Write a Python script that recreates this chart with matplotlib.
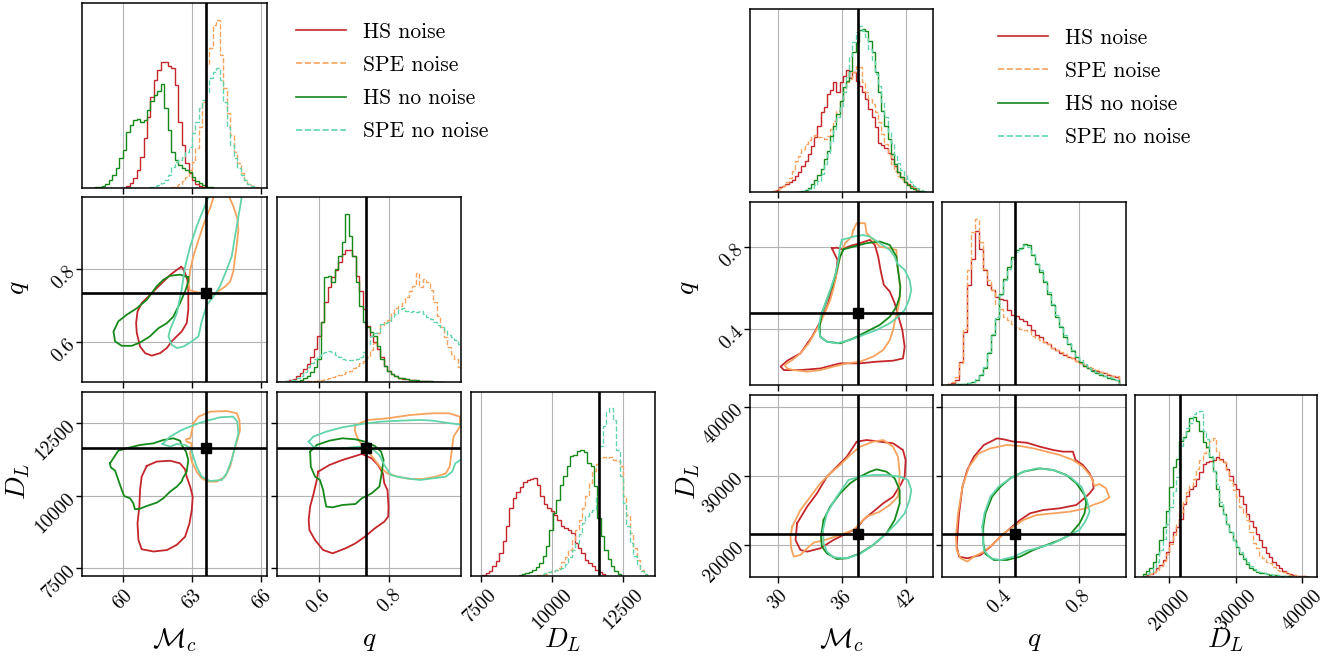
import numpy as np
import matplotlib
matplotlib.use("Agg")
import matplotlib.pyplot as plt
from matplotlib.lines import Line2D

plt.rcParams["font.family"] = "cmr10"
plt.rcParams["mathtext.fontset"] = "cm"
plt.rcParams["axes.unicode_minus"] = False
plt.rcParams["axes.formatter.use_mathtext"] = True

SERIES = ["HS noise", "SPE noise", "HS no noise", "SPE no noise"]
COLORS = ["#c4262b", "#f6a35e", "#16891b", "#62d4a9"]
HIST_STYLES = ["-", "--", "-", "--"]
PARAM_LABELS = [r"$\mathcal{M}_c$", r"$q$", r"$D_L$"]

# ------------------------------------------------------------------ LEFT corner
L_TRUTH = [63.6, 0.735, 11650]
L_MC_TICKS = [60, 63, 66]
L_Q_TICKS = [0.6, 0.8]
L_DL_TICKS = [7500, 10000, 12500]
L_MC_TICKLABELS = ["60", "63", "66"]
L_Q_TICKLABELS = ["0.6", "0.8"]
L_DL_TICKLABELS = ["7500", "10000", "12500"]

# Mc histograms (bin width 0.15)
L_MC_BIN = 0.15
L_MC_START = [60.0, 62.1, 58.5, 61.2]
L_MC_HS_NOISE = [2, 6, 15, 30, 55, 95, 150, 215, 275, 325, 355, 378, 378, 368, 360, 310,
                 200, 130, 75, 45, 25, 12, 6, 3]
L_MC_SPE_NOISE = [3, 6, 12, 22, 35, 55, 80, 120, 185, 260, 370, 420, 490, 505, 400, 300,
                  225, 160, 110, 75, 45, 25, 12, 6, 3]
L_MC_HS_NONOISE = [1, 2, 3, 5, 8, 14, 25, 40, 60, 90, 115, 170, 190, 205, 207, 198, 205,
                   235, 262, 280, 292, 312, 240, 175, 110, 85, 70, 60, 55, 48, 35, 22, 15,
                   9, 5, 3]
L_MC_SPE_NONOISE = [3, 6, 10, 16, 25, 40, 65, 78, 85, 95, 108, 125, 165, 200, 240, 265,
                    290, 330, 350, 362, 325, 260, 185, 130, 92, 62, 40, 25, 14, 7]

# q histograms (bin width 0.01)
L_Q_BIN = 0.01
L_Q_START = [0.485, 0.485, 0.485, 0.485]
L_Q_HS_NOISE = [1, 2, 4, 6, 10, 18, 28, 40, 55, 75, 100, 140, 182, 240, 285, 315, 338,
                360, 385, 398, 398, 380, 318, 275, 220, 170, 140, 120, 100, 75, 50, 35,
                25, 18, 14, 11, 9, 7, 6, 5, 4, 3, 3, 2, 2, 1, 1]
L_Q_SPE_NOISE = [0, 0, 1, 1, 1, 2, 2, 3, 3, 4, 5, 6, 8, 11, 13, 15, 20, 22, 25, 30, 35,
                 42, 50, 57, 65, 77, 97, 117, 147, 172, 182, 187, 207, 222, 230, 237,
                 257, 275, 290, 327, 287, 309, 300, 277, 240, 200, 165, 135, 105, 85, 70,
                 45]
L_Q_HS_NONOISE = [0, 1, 1, 2, 3, 5, 8, 12, 18, 30, 45, 70, 180, 315, 318, 300, 340, 380,
                  420, 505, 440, 380, 300, 230, 180, 165, 150, 140, 110, 70, 48, 35, 25,
                  18, 14, 12, 10, 8, 7, 6, 5, 4, 3, 3, 2, 2, 1]
L_Q_SPE_NONOISE = [1, 2, 4, 6, 8, 12, 18, 30, 45, 58, 70, 78, 87, 92, 94, 90, 82, 75, 70,
                   67, 67, 67, 70, 75, 90, 115, 140, 147, 150, 175, 178, 180, 195, 205,
                   220, 222, 215, 212, 215, 212, 215, 205, 195, 190, 180, 172, 167, 157,
                   142, 137, 127, 115]

# DL histograms (bin width 120)
L_DL_BIN = 120
L_DL_START = [7550, 9490, 8830, 9490]
L_DL_HS_NOISE = [4, 9, 17, 30, 45, 70, 105, 150, 205, 235, 252, 268, 282, 290, 292, 294,
                 275, 240, 218, 204, 195, 185, 170, 150, 145, 140, 130, 100, 85, 70, 50,
                 40, 30, 20, 12, 6]
L_DL_SPE_NOISE = [3, 5, 8, 12, 16, 20, 25, 42, 58, 78, 108, 140, 170, 205, 240, 280, 315,
                  338, 354, 358, 356, 358, 350, 345, 330, 240, 185, 130, 85, 50, 20, 8]
L_DL_HS_NONOISE = [4, 7, 10, 13, 18, 28, 40, 60, 90, 140, 190, 230, 275, 300, 330, 360,
                   365, 375, 380, 372, 340, 330, 270, 175, 120, 80, 52, 32, 16, 8]
L_DL_SPE_NONOISE = [2, 6, 10, 14, 17, 19, 21, 26, 38, 58, 78, 100, 128, 160, 180, 194,
                    200, 240, 390, 450, 492, 504, 470, 380, 300, 220, 150, 100, 62, 35,
                    16, 6]

# credible-region outlines, q vs Mc  (Mc, q)
L_QMC_HS_NOISE = [(62.53, 0.806), (62.34, 0.798), (62.05, 0.784), (61.76, 0.766),
                  (61.47, 0.748), (61.11, 0.725), (60.82, 0.707), (60.64, 0.684),
                  (60.58, 0.652), (60.61, 0.625), (60.75, 0.588), (60.97, 0.570),
                  (61.26, 0.563), (61.62, 0.570), (61.91, 0.584), (62.12, 0.602),
                  (62.34, 0.616), (62.55, 0.629), (62.77, 0.652), (62.84, 0.689),
                  (62.84, 0.743), (62.80, 0.771), (62.70, 0.789), (62.60, 0.803)]
L_QMC_SPE_NOISE = [(63.93, 0.997), (63.81, 0.972), (63.52, 0.926), (63.28, 0.880),
                   (63.06, 0.835), (62.92, 0.798), (62.86, 0.762), (62.89, 0.743),
                   (63.09, 0.739), (63.42, 0.734), (63.71, 0.723), (63.95, 0.730),
                   (64.19, 0.742), (64.43, 0.752), (64.65, 0.766), (64.79, 0.794),
                   (64.86, 0.830), (64.94, 0.867), (65.01, 0.908), (64.96, 0.940),
                   (64.79, 0.972), (64.62, 0.997), (64.50, 1.045), (64.07, 1.045)]
L_QMC_HS_NONOISE = [(62.84, 0.778), (62.48, 0.785), (62.05, 0.782), (61.76, 0.771),
                    (61.47, 0.753), (61.04, 0.716), (60.61, 0.693), (60.17, 0.675),
                    (59.81, 0.657), (59.60, 0.629), (59.67, 0.602), (59.96, 0.590),
                    (60.39, 0.590), (60.75, 0.599), (61.18, 0.616), (61.54, 0.638),
                    (61.91, 0.652), (62.19, 0.670), (62.48, 0.707), (62.70, 0.739),
                    (62.84, 0.766)]
L_QMC_SPE_NONOISE = [(63.71, 0.997), (63.49, 0.963), (63.20, 0.917), (62.92, 0.862),
                     (62.70, 0.807), (62.55, 0.743), (62.34, 0.679), (62.05, 0.634),
                     (61.98, 0.616), (62.12, 0.593), (62.34, 0.584), (62.63, 0.588),
                     (62.99, 0.602), (63.28, 0.616), (63.42, 0.657), (63.64, 0.702),
                     (63.93, 0.725), (64.21, 0.753), (64.50, 0.798), (64.72, 0.835),
                     (64.86, 0.889), (65.01, 0.944), (65.11, 0.981), (65.15, 0.997),
                     (65.08, 1.045), (63.78, 1.045)]

# DL vs Mc  (Mc, DL)
L_DLMC_HS_NOISE = [(61.04, 11030), (61.47, 11180), (62.05, 11210), (62.48, 11120),
                   (62.70, 10910), (62.77, 10660), (62.92, 10320), (63.03, 9970),
                   (62.99, 9510), (62.89, 9050), (62.70, 8590), (62.34, 8310),
                   (61.91, 8130), (61.33, 8080), (60.82, 8160), (60.68, 8480),
                   (60.64, 9050), (60.72, 9630), (60.75, 10200), (60.82, 10660)]
L_DLMC_SPE_NOISE = [(63.06, 12500), (63.28, 12730), (63.78, 12900), (64.50, 12925),
                    (64.94, 12845), (65.05, 12615), (65.08, 12270), (64.96, 11925),
                    (64.79, 11466), (64.65, 11006), (64.43, 10661), (64.07, 10489),
                    (63.71, 10489), (63.42, 10603), (63.20, 10833), (62.99, 11178),
                    (62.92, 11466), (62.99, 11810), (62.77, 11868), (62.74, 11948),
                    (62.92, 11983), (62.99, 12213)]
L_DLMC_HS_NONOISE = [(59.45, 11121), (59.81, 11557), (60.17, 11638), (60.75, 11753),
                     (61.33, 11810), (61.76, 11925), (62.19, 11983), (62.48, 11902),
                     (62.55, 11753), (62.74, 11523), (62.84, 11236), (62.77, 10833),
                     (62.60, 10603), (62.55, 10489), (62.34, 10316), (62.05, 10144),
                     (61.76, 9914), (61.47, 9764), (61.04, 9649), (60.75, 9558),
                     (60.53, 9535), (60.46, 9741), (60.32, 9914), (60.06, 9994),
                     (59.96, 10201), (59.67, 10868), (59.48, 10983)]
L_DLMC_SPE_NONOISE = [(61.72, 11788), (62.05, 12040), (62.55, 12270), (63.35, 12523),
                      (64.21, 12707), (64.79, 12730), (64.96, 12557), (65.01, 12155),
                      (64.86, 11695), (64.72, 11236), (64.50, 10776), (64.29, 10546),
                      (63.78, 10511), (63.42, 10661), (63.20, 11006), (63.06, 11351),
                      (62.94, 11638), (62.70, 11753), (62.34, 11788), (62.05, 11695)]

# DL vs q  (q, DL)
L_DLQ_HS_NOISE = [(0.598, 10833), (0.630, 11063), (0.667, 11236), (0.704, 11374),
                  (0.722, 11443), (0.750, 11293), (0.768, 11063), (0.782, 10776),
                  (0.786, 10431), (0.795, 10201), (0.798, 9627), (0.797, 9282),
                  (0.786, 9109), (0.759, 8879), (0.731, 8592), (0.704, 8362),
                  (0.676, 8190), (0.639, 8017), (0.612, 8132), (0.589, 8477),
                  (0.573, 8822), (0.571, 9167), (0.575, 9627), (0.584, 10029),
                  (0.594, 10546)]
L_DLQ_SPE_NOISE = [(0.704, 12443), (0.740, 12615), (0.795, 12672), (0.860, 12787),
                   (0.924, 12845), (0.970, 12845), (1.001, 12730), (1.001, 12385),
                   (0.983, 12040), (0.977, 11466), (0.972, 11006), (0.961, 10776),
                   (0.933, 10661), (0.896, 10580), (0.860, 10580), (0.823, 10661),
                   (0.795, 10776), (0.777, 10948), (0.759, 11236), (0.740, 11523),
                   (0.722, 11753), (0.708, 12040), (0.702, 12270)]
L_DLQ_HS_NONOISE = [(0.575, 11523), (0.594, 11753), (0.630, 11902), (0.667, 11983),
                    (0.704, 11948), (0.731, 11868), (0.759, 11718), (0.777, 11523),
                    (0.784, 11236), (0.777, 10661), (0.772, 10316), (0.750, 10086),
                    (0.722, 9914), (0.704, 9718), (0.667, 9684), (0.639, 9604),
                    (0.621, 9627), (0.617, 9856), (0.612, 10201), (0.603, 10546),
                    (0.589, 10661), (0.577, 11006)]
L_DLQ_SPE_NONOISE = [(0.571, 11868), (0.584, 12040), (0.621, 12213), (0.667, 12362),
                     (0.722, 12477), (0.777, 12557), (0.832, 12592), (0.887, 12615),
                     (0.924, 12592), (0.961, 12523), (1.010, 12443), (1.010, 11293),
                     (0.988, 11121), (0.979, 10833), (0.961, 10661), (0.924, 10603),
                     (0.887, 10546), (0.850, 10603), (0.823, 10661), (0.805, 10718),
                     (0.786, 11063), (0.772, 11408), (0.750, 11638), (0.713, 11695),
                     (0.667, 11638), (0.621, 11603), (0.584, 11695)]

# ----------------------------------------------------------------- RIGHT corner
R_TRUTH = [37.5, 0.478, 21600]
R_MC_TICKS = [30, 36, 42]
R_Q_TICKS = [0.4, 0.8]
R_DL_TICKS = [20000, 30000, 40000]
R_MC_TICKLABELS = ["30", "36", "42"]
R_Q_TICKLABELS = ["0.4", "0.8"]
R_DL_TICKLABELS = ["20000", "30000", "40000"]

R_MC_BIN = 0.3
R_MC_START = [29.5, 29.5, 31.6, 31.6]
R_MC_HS_NOISE = [3, 8, 15, 20, 25, 30, 38, 50, 62, 78, 95, 115, 140, 165, 200, 240, 255,
                 295, 308, 330, 302, 330, 348, 368, 342, 360, 335, 320, 300, 280, 250,
                 225, 195, 148, 142, 132, 117, 100, 80, 60, 45, 32, 25, 18, 12, 6]
R_MC_SPE_NOISE = [4, 8, 14, 20, 30, 42, 65, 95, 110, 130, 145, 157, 167, 172, 165, 167,
                  160, 170, 190, 215, 245, 275, 310, 330, 340, 362, 378, 375, 330, 300,
                  280, 265, 240, 210, 175, 145, 115, 85, 65, 50, 40, 30, 22, 16, 11, 6]
R_MC_HS_NONOISE = [1, 2, 4, 7, 14, 25, 38, 52, 70, 100, 125, 170, 200, 235, 275, 315,
                   335, 365, 420, 450, 488, 489, 484, 455, 420, 360, 300, 245, 200, 160,
                   115, 85, 60, 45, 32, 22, 14, 9, 5, 3, 1]
R_MC_SPE_NONOISE = [1, 2, 3, 6, 10, 14, 22, 35, 55, 85, 115, 155, 190, 225, 260, 300,
                    345, 410, 450, 480, 499, 485, 465, 430, 395, 355, 320, 270, 225, 182,
                    147, 112, 87, 67, 52, 40, 30, 20, 12, 8, 4]

R_Q_BIN = 0.02
R_Q_START = [0.14, 0.14, 0.14, 0.14]
R_Q_HS_NOISE = [2, 5, 15, 70, 160, 300, 380, 463, 410, 345, 300, 285, 265, 258, 255, 225,
                210, 208, 200, 192, 180, 165, 150, 145, 128, 122, 112, 105, 97, 90, 85,
                80, 73, 65, 57, 50, 46, 43, 40, 35, 30, 27, 24]
R_Q_SPE_NOISE = [3, 8, 25, 65, 170, 345, 460, 500, 430, 350, 315, 285, 245, 230, 205,
                 195, 185, 175, 168, 165, 162, 148, 142, 135, 128, 122, 112, 105, 98, 92,
                 85, 80, 72, 65, 60, 55, 50, 45, 40, 37, 33, 28, 26]
R_Q_HS_NONOISE = [1, 1, 2, 3, 4, 6, 10, 15, 30, 50, 95, 150, 200, 275, 320, 355, 385,
                  405, 412, 425, 420, 390, 365, 340, 310, 275, 240, 205, 175, 145, 122,
                  102, 85, 70, 58, 50, 42, 36, 30, 26, 22, 18, 14]
R_Q_SPE_NONOISE = [1, 1, 2, 3, 4, 6, 10, 17, 32, 55, 100, 155, 205, 270, 315, 350, 380,
                   400, 410, 420, 415, 395, 368, 345, 312, 280, 245, 210, 178, 150, 125,
                   105, 88, 74, 62, 52, 45, 38, 33, 28, 24, 20, 16]

R_DL_BIN = 500
R_DL_START = [16000, 16000, 16000, 16000]
R_DL_HS_NOISE = [2, 5, 9, 16, 26, 36, 51, 76, 105, 135, 150, 175, 220, 245, 265, 275, 295,
                 315, 340, 345, 350, 352, 360, 355, 345, 325, 305, 280, 265, 245, 220,
                 190, 170, 150, 130, 110, 90, 72, 60, 46, 36, 26, 17, 12, 9, 6, 4, 3, 2, 1]
R_DL_SPE_NOISE = [3, 6, 10, 14, 22, 32, 48, 70, 100, 125, 160, 195, 230, 255, 275, 295,
                  325, 352, 372, 392, 408, 419, 380, 352, 345, 322, 292, 262, 242, 212,
                  192, 172, 135, 102, 88, 62, 56, 46, 41, 31, 21, 17, 14, 11, 7, 5, 4, 3,
                  2, 1]
R_DL_HS_NONOISE = [10, 18, 28, 45, 70, 110, 150, 200, 270, 330, 355, 410, 422, 440, 478,
                   481, 470, 440, 405, 390, 360, 320, 265, 215, 190, 160, 135, 110, 90,
                   70, 55, 38, 27, 21, 16, 13, 11, 9, 7, 6, 5, 4, 3, 2, 2, 1, 1, 1, 0, 0]
R_DL_SPE_NONOISE = [3, 8, 16, 28, 45, 80, 115, 160, 210, 260, 300, 395, 420, 448, 465,
                    490, 496, 499, 440, 415, 365, 320, 280, 225, 190, 160, 135, 112, 92,
                    75, 58, 44, 32, 24, 19, 15, 12, 10, 8, 7, 5, 4, 3, 2, 2, 1, 1, 1, 0, 0]

R_QMC_HS_NOISE = [(35.07, 0.795), (35.53, 0.798), (36.00, 0.790), (36.78, 0.806),
                  (37.71, 0.820), (38.64, 0.836), (39.11, 0.811), (39.42, 0.754),
                  (39.67, 0.681), (39.95, 0.616), (40.51, 0.583), (40.97, 0.526),
                  (41.28, 0.469), (41.69, 0.395), (41.91, 0.313), (41.75, 0.256),
                  (40.82, 0.245), (39.26, 0.240), (37.71, 0.232), (35.84, 0.232),
                  (33.98, 0.207), (32.11, 0.199), (30.56, 0.199), (30.25, 0.216),
                  (30.87, 0.245), (32.11, 0.281), (33.20, 0.362), (33.98, 0.436),
                  (34.60, 0.509), (35.07, 0.583), (35.44, 0.656), (35.60, 0.738)]
R_QMC_SPE_NOISE = [(37.09, 0.885), (37.40, 0.918), (38.18, 0.918), (38.33, 0.869),
                   (38.95, 0.836), (39.57, 0.803), (40.51, 0.795), (41.13, 0.787),
                   (41.19, 0.722), (41.38, 0.656), (41.50, 0.591), (41.38, 0.526),
                   (41.19, 0.477), (40.97, 0.436), (40.82, 0.395), (40.51, 0.346),
                   (39.89, 0.297), (38.95, 0.265), (37.71, 0.240), (36.47, 0.232),
                   (35.22, 0.216), (33.98, 0.199), (32.74, 0.191), (31.49, 0.199),
                   (30.87, 0.207), (30.62, 0.224), (31.34, 0.248), (32.11, 0.281),
                   (32.89, 0.330), (33.42, 0.379), (33.98, 0.428), (34.45, 0.485),
                   (34.91, 0.542), (35.22, 0.599), (35.53, 0.673), (35.84, 0.754),
                   (36.31, 0.820), (36.93, 0.852)]
R_QMC_HS_NONOISE = [(36.16, 0.790), (37.09, 0.803), (38.33, 0.820), (39.57, 0.828),
                    (40.51, 0.811), (41.13, 0.754), (41.28, 0.689), (41.50, 0.607),
                    (41.44, 0.558), (41.13, 0.509), (40.51, 0.460), (39.57, 0.420),
                    (38.33, 0.387), (37.09, 0.354), (35.84, 0.330), (34.60, 0.338),
                    (33.98, 0.362), (33.92, 0.411), (34.13, 0.477), (34.60, 0.542),
                    (35.07, 0.607), (35.53, 0.689), (35.84, 0.754)]
R_QMC_SPE_NONOISE = [(36.00, 0.836), (37.09, 0.852), (38.02, 0.860), (38.64, 0.852),
                     (39.57, 0.820), (40.51, 0.787), (40.97, 0.754), (41.19, 0.722),
                     (41.91, 0.689), (42.37, 0.640), (42.53, 0.591), (42.31, 0.542),
                     (41.91, 0.493), (41.28, 0.460), (40.51, 0.428), (39.26, 0.395),
                     (38.02, 0.371), (36.78, 0.346), (35.53, 0.330), (34.60, 0.338),
                     (33.98, 0.362), (33.82, 0.411), (34.04, 0.469), (34.45, 0.526),
                     (34.91, 0.591), (35.38, 0.664), (35.69, 0.738), (35.84, 0.803)]

R_DLMC_HS_NOISE = [(31.80, 23090), (32.74, 25510), (33.67, 27440), (34.60, 29860),
                   (35.53, 31300), (36.47, 32750), (37.40, 34930), (38.33, 35170),
                   (39.57, 34930), (40.82, 34690), (41.75, 33720), (42.00, 32270),
                   (41.91, 29860), (41.60, 28890), (40.82, 26960), (39.89, 25990),
                   (38.95, 24780), (38.02, 23580), (37.40, 22370), (36.47, 21640),
                   (35.22, 20680), (33.98, 19470), (32.74, 18990), (32.11, 19230),
                   (31.65, 20680)]
R_DLMC_SPE_NOISE = [(31.34, 22610), (32.11, 25020), (33.05, 26960), (33.98, 28890),
                    (34.91, 30340), (35.84, 31550), (36.78, 33000), (37.71, 34200),
                    (38.95, 34930), (39.89, 35170), (40.82, 34200), (41.28, 32750),
                    (41.44, 30340), (41.38, 28410), (41.28, 26960), (40.51, 25750),
                    (39.57, 24780), (38.33, 24060), (37.71, 23090), (37.09, 22130),
                    (35.84, 21400), (34.60, 20770), (33.36, 20290), (32.74, 19470),
                    (32.11, 18500), (31.49, 18260), (31.24, 19470), (31.18, 21160)]
R_DLMC_HS_NONOISE = [(34.29, 23580), (34.91, 25510), (35.84, 27440), (36.78, 28890),
                     (37.71, 29860), (38.64, 30580), (39.26, 30920), (40.20, 30580),
                     (40.97, 29610), (41.44, 27920), (41.44, 25990), (40.97, 23580),
                     (40.20, 21640), (38.95, 19950), (37.71, 18740), (36.47, 18020),
                     (35.53, 17920), (34.60, 18740), (34.13, 19710), (34.04, 21160)]
R_DLMC_SPE_NONOISE = [(34.23, 22130), (34.60, 24540), (35.53, 26960), (36.62, 29370),
                      (37.71, 29860), (38.95, 30100), (40.20, 30100), (41.44, 29860),
                      (42.22, 29370), (42.53, 27920), (42.37, 26470), (41.91, 24540),
                      (41.13, 23090), (40.20, 21640), (38.95, 19950), (37.71, 18650),
                      (36.47, 18020), (35.22, 18160), (34.60, 18990), (34.29, 20190)]

R_DLQ_HS_NOISE = [(0.192, 21640), (0.200, 24540), (0.217, 28410), (0.241, 30820),
                  (0.274, 32750), (0.324, 34450), (0.390, 35410), (0.423, 35270),
                  (0.473, 34930), (0.539, 34780), (0.605, 34200), (0.671, 33720),
                  (0.721, 33480), (0.770, 33480), (0.783, 32270), (0.820, 31550),
                  (0.853, 30340), (0.869, 29370), (0.873, 28160), (0.853, 27440),
                  (0.836, 26960), (0.787, 25750), (0.704, 25270), (0.621, 25020),
                  (0.555, 24540), (0.506, 23580), (0.456, 22370), (0.407, 21160),
                  (0.357, 19710), (0.308, 18500), (0.241, 18020), (0.200, 18260),
                  (0.188, 19710)]
R_DLQ_SPE_NOISE = [(0.184, 21160), (0.195, 24540), (0.217, 28410), (0.250, 31300),
                   (0.299, 33240), (0.357, 33960), (0.440, 34450), (0.506, 34300),
                   (0.572, 33960), (0.638, 33480), (0.704, 33000), (0.770, 32270),
                   (0.820, 31300), (0.861, 29860), (0.878, 28500), (0.902, 28790),
                   (0.936, 28160), (0.952, 26860), (0.919, 26230), (0.869, 25750),
                   (0.836, 25270), (0.754, 24780), (0.671, 24540), (0.588, 24300),
                   (0.522, 23580), (0.473, 22610), (0.423, 21640), (0.374, 20190),
                   (0.324, 18990), (0.274, 18260), (0.241, 17540), (0.208, 18020),
                   (0.188, 19230)]
R_DLQ_HS_NONOISE = [(0.321, 22610), (0.332, 24540), (0.365, 26960), (0.407, 28410),
                    (0.456, 29610), (0.522, 30580), (0.605, 31060), (0.671, 30820),
                    (0.737, 30100), (0.787, 28890), (0.828, 27200), (0.836, 25990),
                    (0.828, 24540), (0.803, 23090), (0.754, 21400), (0.704, 20680),
                    (0.638, 19950), (0.572, 19230), (0.506, 18260), (0.440, 17780),
                    (0.374, 17780), (0.332, 18650), (0.321, 20190)]
R_DLQ_SPE_NONOISE = [(0.316, 22610), (0.327, 24540), (0.357, 26960), (0.398, 28410),
                     (0.456, 29610), (0.522, 30580), (0.588, 31060), (0.671, 30820),
                     (0.754, 29860), (0.812, 28410), (0.840, 26470), (0.853, 24780),
                     (0.836, 23580), (0.803, 22130), (0.737, 21160), (0.671, 20190),
                     (0.588, 19470), (0.539, 19130), (0.473, 18260), (0.407, 17780),
                     (0.357, 18020), (0.324, 19230)]

# ------------------------------------------------------------------- layout
W, H = 1335, 658
L_COLS = [(82.3, 267.3), (276.7, 461.3), (470.7, 655.0)]
L_ROWS = [(3.3, 188.3), (197.3, 382.3), (391.7, 576.3)]
R_COLS = [(750.3, 933.3), (942.3, 1125.7), (1134.7, 1317.3)]
R_ROWS = [(9.3, 192.3), (202.3, 385.0), (394.7, 577.0)]

L_XLIM = [(58.25, 66.26), (0.48, 1.005), (7150, 13610)]
L_YLIM = [None, (0.490, 0.997), (7225, 13590)]
R_XLIM = [(27.4, 44.6), (0.116, 1.034), (14790, 42240)]
R_YLIM = [None, (0.126, 1.020), (15310, 41740)]

TICK_FS = 14
LABEL_FS = 20

fig = plt.figure(figsize=(W / 100, H / 100), dpi=100)


def add_ax(col, row):
    x0, x1 = col
    y0, y1 = row
    return fig.add_axes([x0 / W, 1 - y1 / H, (x1 - x0) / W, (y1 - y0) / H])


def base_style(ax):
    for s in ax.spines.values():
        s.set_linewidth(1.1)
    ax.tick_params(direction="out", length=4, width=1.0, labelsize=TICK_FS, pad=3)
    ax.set_axisbelow(True)


def draw_corner(cols, rows, xlims, ylims, ticks, ticklabels, truth, hists, conts):
    # hists: list of (starts, width, [4 arrays]); conts: {(i,j): [4 polys]}
    for i in range(3):
        for j in range(i + 1):
            ax = add_ax(cols[j], rows[i])
            base_style(ax)
            if i == j:
                starts, width, arrs = hists[i]
                top = 0
                for k in range(4):
                    vals = np.asarray(arrs[k], dtype=float)
                    edges = starts[k] + width * np.arange(len(vals) + 1)
                    ax.stairs(vals, edges, color=COLORS[k], linestyle=HIST_STYLES[k],
                              lw=1.0, baseline=0)
                    top = max(top, vals.max())
                ax.set_ylim(0, 1.1 * top)
                ax.set_yticks([])
                ax.grid(True, axis="x", color="#b3b3b3", lw=0.8)
                ax.axvline(truth[i], color="k", lw=1.9)
            else:
                for k, poly in enumerate(conts[(i, j)]):
                    xs = [p[0] for p in poly] + [poly[0][0]]
                    ys = [p[1] for p in poly] + [poly[0][1]]
                    ax.plot(xs, ys, color=COLORS[k], lw=1.3)
                ax.set_ylim(*ylims[i])
                ax.set_yticks(ticks[i])
                ax.grid(True, color="#b3b3b3", lw=0.8)
                ax.axvline(truth[j], color="k", lw=1.9)
                ax.axhline(truth[i], color="k", lw=1.9)
                ax.plot([truth[j]], [truth[i]], "s", color="k", ms=7)
                if j == 0:
                    ax.set_yticklabels(ticklabels[i])
                    for lab in ax.get_yticklabels():
                        lab.set_rotation(45)
                        lab.set_rotation_mode("anchor")
                        lab.set_ha("right")
                        lab.set_va("center")
                else:
                    ax.tick_params(labelleft=False)
            ax.set_xlim(*xlims[j])
            ax.set_xticks(ticks[j])
            if i == 2:
                ax.set_xticklabels(ticklabels[j])
                for lab in ax.get_xticklabels():
                    lab.set_rotation(45)
                    lab.set_ha("center")
            else:
                ax.tick_params(labelbottom=False)


draw_corner(L_COLS, L_ROWS, L_XLIM, L_YLIM,
            [L_MC_TICKS, L_Q_TICKS, L_DL_TICKS],
            [L_MC_TICKLABELS, L_Q_TICKLABELS, L_DL_TICKLABELS], L_TRUTH,
            [(L_MC_START, L_MC_BIN, [L_MC_HS_NOISE, L_MC_SPE_NOISE, L_MC_HS_NONOISE, L_MC_SPE_NONOISE]),
             (L_Q_START, L_Q_BIN, [L_Q_HS_NOISE, L_Q_SPE_NOISE, L_Q_HS_NONOISE, L_Q_SPE_NONOISE]),
             (L_DL_START, L_DL_BIN, [L_DL_HS_NOISE, L_DL_SPE_NOISE, L_DL_HS_NONOISE, L_DL_SPE_NONOISE])],
            {(1, 0): [L_QMC_HS_NOISE, L_QMC_SPE_NOISE, L_QMC_HS_NONOISE, L_QMC_SPE_NONOISE],
             (2, 0): [L_DLMC_HS_NOISE, L_DLMC_SPE_NOISE, L_DLMC_HS_NONOISE, L_DLMC_SPE_NONOISE],
             (2, 1): [L_DLQ_HS_NOISE, L_DLQ_SPE_NOISE, L_DLQ_HS_NONOISE, L_DLQ_SPE_NONOISE]})

draw_corner(R_COLS, R_ROWS, R_XLIM, R_YLIM,
            [R_MC_TICKS, R_Q_TICKS, R_DL_TICKS],
            [R_MC_TICKLABELS, R_Q_TICKLABELS, R_DL_TICKLABELS], R_TRUTH,
            [(R_MC_START, R_MC_BIN, [R_MC_HS_NOISE, R_MC_SPE_NOISE, R_MC_HS_NONOISE, R_MC_SPE_NONOISE]),
             (R_Q_START, R_Q_BIN, [R_Q_HS_NOISE, R_Q_SPE_NOISE, R_Q_HS_NONOISE, R_Q_SPE_NONOISE]),
             (R_DL_START, R_DL_BIN, [R_DL_HS_NOISE, R_DL_SPE_NOISE, R_DL_HS_NONOISE, R_DL_SPE_NONOISE])],
            {(1, 0): [R_QMC_HS_NOISE, R_QMC_SPE_NOISE, R_QMC_HS_NONOISE, R_QMC_SPE_NONOISE],
             (2, 0): [R_DLMC_HS_NOISE, R_DLMC_SPE_NOISE, R_DLMC_HS_NONOISE, R_DLMC_SPE_NONOISE],
             (2, 1): [R_DLQ_HS_NOISE, R_DLQ_SPE_NOISE, R_DLQ_HS_NONOISE, R_DLQ_SPE_NONOISE]})

# axis labels
for cols, ylab_x in ((L_COLS, 18), (R_COLS, 688)):
    for j in range(3):
        xc = 0.5 * (cols[j][0] + cols[j][1])
        fig.text(xc / W, 1 - 640 / H, PARAM_LABELS[j], fontsize=LABEL_FS,
                 ha="center", va="center")
    fig.text(ylab_x / W, 1 - 288 / H, PARAM_LABELS[1], fontsize=LABEL_FS,
             ha="center", va="center", rotation=90)
    fig.text(ylab_x / W, 1 - 481 / H, PARAM_LABELS[2], fontsize=LABEL_FS,
             ha="center", va="center", rotation=90)

# legends
handles = [Line2D([], [], color=COLORS[k], ls=HIST_STYLES[k], lw=1.2) for k in range(4)]
for x0, y0 in ((296, 22), (998, 28)):
    fig.legend(handles, SERIES, loc="upper left", bbox_to_anchor=(x0 / W, 1 - y0 / H),
               frameon=False, fontsize=15.5, handlelength=2.3, handletextpad=0.8,
               labelspacing=0.64, borderpad=0, borderaxespad=0)

fig.savefig("out.png", dpi=100)
